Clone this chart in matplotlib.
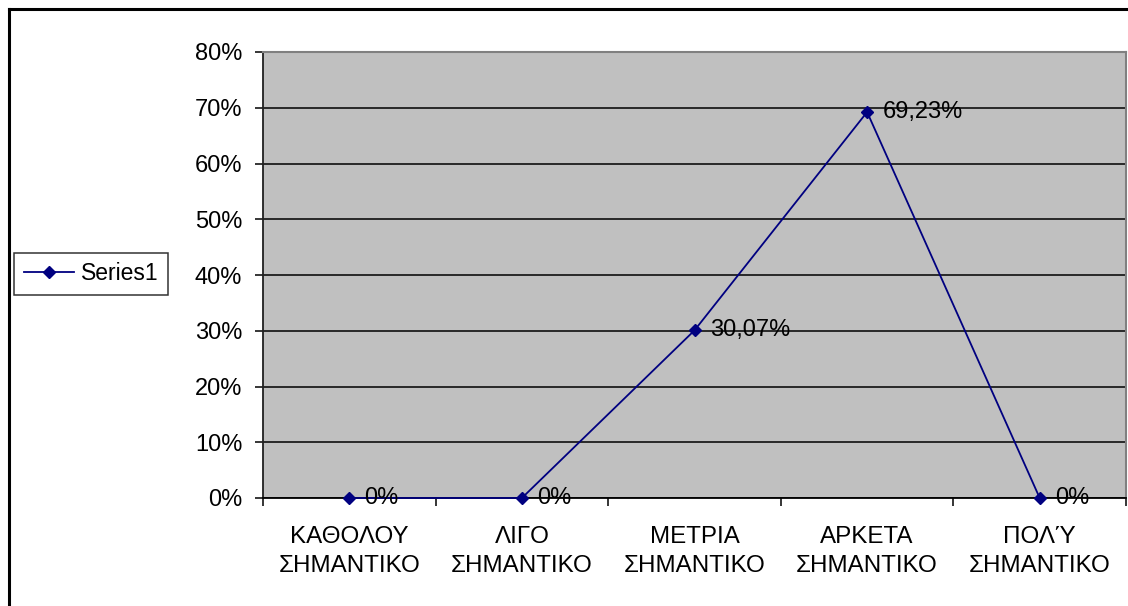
import matplotlib
matplotlib.use("Agg")
import matplotlib.pyplot as plt
from matplotlib.lines import Line2D
from matplotlib.ticker import FuncFormatter

plt.rcParams['font.family'] = ['Liberation Sans', 'DejaVu Sans']

categories = ["ΚΑΘΟΛΟΥ\nΣΗΜΑΝΤΙΚΟ", "ΛΙΓΟ\nΣΗΜΑΝΤΙΚΟ", "ΜΕΤΡΙΑ\nΣΗΜΑΝΤΙΚΟ",
              "ΑΡΚΕΤΑ\nΣΗΜΑΝΤΙΚΟ", "ΠΟΛΎ\nΣΗΜΑΝΤΙΚΟ"]
values = [0, 0, 30.07, 69.23, 0]
series_name = "Series1"
y_ticks = [0, 10, 20, 30, 40, 50, 60, 70, 80]

FS = 17
NAVY = "#000080"


def pct_label(v):
    return f"{v:g}%".replace(".", ",")


fig = plt.figure(figsize=(11.28, 6.06), dpi=100)
W, H = 1128, 606
ax = fig.add_axes([263 / W, 1 - 498 / H, (1126 - 263) / W, (498 - 52) / H])
ax.set_facecolor("#C0C0C0")

x = list(range(len(categories)))
line, = ax.plot(x, values, color=NAVY, lw=1.3, marker="D", ms=6.4,
                markerfacecolor=NAVY, markeredgecolor=NAVY, label=series_name,
                zorder=4, clip_on=False)

for xi, v in zip(x, values):
    ax.annotate(pct_label(v), (xi, v), xytext=(11, 0), textcoords="offset points",
                ha="left", va="center", fontsize=FS, color="black", zorder=5)

ax.set_xlim(-0.5, len(categories) - 0.5)
ax.set_ylim(0, 80)
ax.set_yticks(y_ticks)
ax.yaxis.set_major_formatter(FuncFormatter(lambda v, p: f"{v:g}%"))
ax.yaxis.grid(True, color="black", lw=1.1)
ax.set_axisbelow(True)

# category boundaries carry the tick marks; names sit between them
ax.set_xticks([i - 0.5 for i in range(len(categories) + 1)])
ax.set_xticklabels([])
ax.set_xticks(x, minor=True)
ax.set_xticklabels(categories, minor=True, fontsize=17.4, linespacing=1.45)
ax.tick_params(axis="x", which="major", direction="out", length=6, width=1.1, color="black")
ax.tick_params(axis="x", which="minor", length=0, pad=20)
ax.tick_params(axis="y", direction="out", length=6, width=1.1, color="black",
               labelsize=FS, pad=9)

for side in ("top", "right"):
    ax.spines[side].set_color("#808080")
    ax.spines[side].set_linewidth(1.5)
ax.spines["left"].set_color("#202020")
ax.spines["left"].set_linewidth(1.3)
ax.spines["bottom"].set_color("black")
ax.spines["bottom"].set_linewidth(1.3)

leg = fig.legend(handles=[line], loc="center left",
                 bbox_to_anchor=(14 / W, 1 - 274 / H), fontsize=16.5,
                 frameon=True, fancybox=False, edgecolor="black",
                 handlelength=2.2, handletextpad=0.3, borderpad=0.42,
                 borderaxespad=0)
leg.get_frame().set_linewidth(1.1)

# chart frame (left and top edges)
fig.add_artist(Line2D([9 / W, 9 / W], [0, 1 - 9 / H], transform=fig.transFigure,
                      color="black", lw=2.2))
fig.add_artist(Line2D([9 / W, 1], [1 - 9 / H, 1 - 9 / H], transform=fig.transFigure,
                      color="black", lw=2.2))

fig.savefig("out.png", dpi=100, facecolor="white")
